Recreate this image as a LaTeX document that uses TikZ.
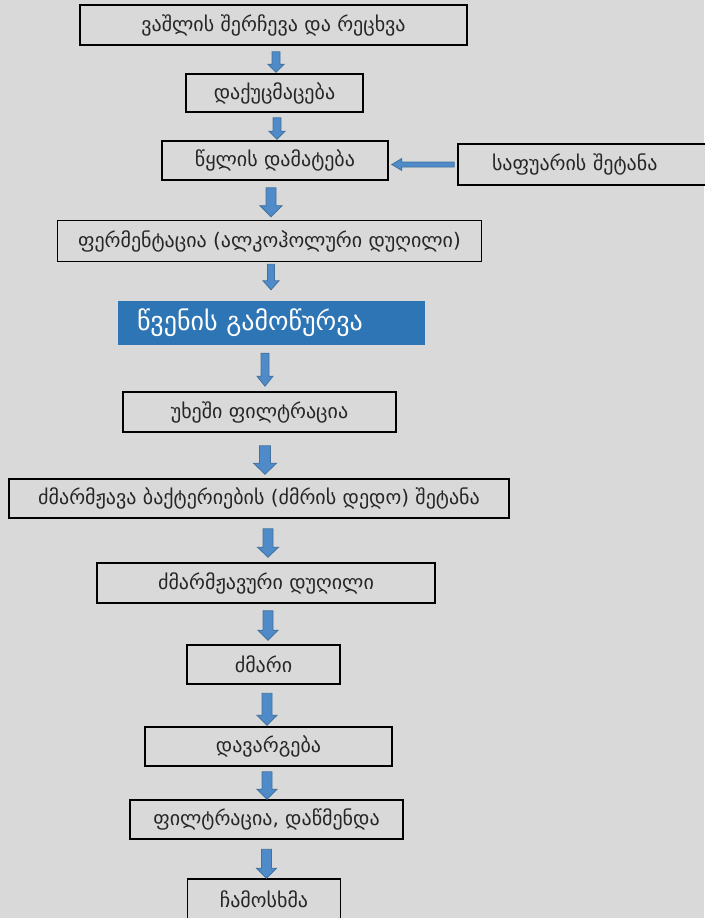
\documentclass[tikz,border=0pt]{standalone}
\usepackage{fontspec}
\setmainfont{DejaVu Sans}
\usetikzlibrary{calc}
\definecolor{bgc}{RGB}{217,217,217}
\definecolor{arrfill}{RGB}{79,139,201}
\definecolor{arrline}{RGB}{65,113,156}
\definecolor{boxblue}{RGB}{46,117,182}
\tikzset{
  stepbox/.style={draw=black, line width=1.6pt, fill=bgc, inner sep=0pt, font=\fontsize{20}{23}\selectfont, text=black!85},
  bluebox/.style={fill=boxblue, inner sep=0pt, font=\fontsize{26}{30}\selectfont, text=white},
  arrowstyle/.style={fill=arrfill, draw=arrline, line width=0.8pt, line join=miter},
  blkdown/.style n args={3}{to path={
    let \p1=(\tikztostart), \p2=(\tikztotarget) in
    (\x1-#1/2,\y1) -- (\x1-#1/2,\y2+#3) -- (\x1-#2/2,\y2+#3) -- (\x1,\y2) -- (\x1+#2/2,\y2+#3) -- (\x1+#1/2,\y2+#3) -- (\x1+#1/2,\y1) -- cycle
  }},
  blkleft/.style n args={3}{to path={
    let \p1=(\tikztostart), \p2=(\tikztotarget) in
    (\x1,\y1-#1/2) -- (\x2+#3,\y1-#1/2) -- (\x2+#3,\y1-#2/2) -- (\x2,\y1) -- (\x2+#3,\y1+#2/2) -- (\x2+#3,\y1+#1/2) -- (\x1,\y1+#1/2) -- cycle
  }}
}
\begin{document}
\begin{tikzpicture}[x=1pt,y=-1pt]
\useasboundingbox (0,0) rectangle (704,918);
\fill[bgc] (0,0) rectangle (704,918);

\node[stepbox, minimum width=387, minimum height=40] (b1) at (273.5,25) {ვაშლის შერჩევა და რეცხვა};
\node[stepbox, minimum width=177, minimum height=38] (b2) at (274.5,93) {დაქუცმაცება};
\node[stepbox, minimum width=226, minimum height=39] (b3) at (275,160.5) {წყლის დამატება};
\node[stepbox, minimum width=270, minimum height=41, text width=262, align=left] (b4) at (593,164.5) {\hspace*{30pt}საფუარის შეტანა};
\node[stepbox, minimum width=424, minimum height=41] (b5) at (269.5,241) {ფერმენტაცია (ალკოჰოლური დუღილი)};
\node[bluebox, minimum width=307, minimum height=44, text width=269, align=left] (b6) at (271.5,323) {წვენის გამოწურვა};
\node[stepbox, minimum width=273, minimum height=40] (b7) at (259.5,412) {უხეში ფილტრაცია};
\node[stepbox, minimum width=500, minimum height=39] (b8) at (259,498.5) {ძმარმჟავა ბაქტერიების (ძმრის დედო) შეტანა};
\node[stepbox, minimum width=338, minimum height=40] (b9) at (266,583) {ძმარმჟავური დუღილი};
\node[stepbox, minimum width=153, minimum height=39] (b10) at (263.5,664.5) {ძმარი};
\node[stepbox, minimum width=247, minimum height=39] (b11) at (268.5,746.5) {დავარგება};
\node[stepbox, minimum width=273, minimum height=39] (b12) at (266.5,819.5) {ფილტრაცია, დაწმენდა};
\node[stepbox, minimum width=153, minimum height=41] (b13) at (264,899.5) {ჩამოსხმა};

\draw[arrowstyle] ([xshift=2.5,yshift=-6]b1.south) to[blkdown={8}{16}{8}] ([yshift=1]b2.north);
\draw[arrowstyle] ([xshift=2.5,yshift=-5]b2.south) to[blkdown={8}{16}{8}] ([yshift=1]b3.north);
\draw[arrowstyle] ([xshift=-4,yshift=-7]b3.south) to[blkdown={10}{22}{11}] ([yshift=3]b5.north);
\draw[arrowstyle] ([xshift=1.5,yshift=-2]b5.south) to[blkdown={7}{16}{9}] ([yshift=11]b6.north);
\draw[arrowstyle] ([xshift=-6.5,yshift=-8]b6.south) to[blkdown={8}{16}{10}] ([yshift=5]b7.north);
\draw[arrowstyle] ([xshift=5.5,yshift=-13]b7.south) to[blkdown={11}{23}{11}] ([yshift=4]b8.north);
\draw[arrowstyle] ([xshift=9,yshift=-10]b8.south) to[blkdown={10}{21}{10}] ([yshift=5]b9.north);
\draw[arrowstyle] ([xshift=2,yshift=-7]b9.south) to[blkdown={10}{20}{10}] ([yshift=4]b10.north);
\draw[arrowstyle] ([xshift=3.5,yshift=-8.5]b10.south) to[blkdown={10}{20}{10}] ([yshift=1]b11.north);
\draw[arrowstyle] ([xshift=-1.5,yshift=-5]b11.south) to[blkdown={10}{20}{10}] ([yshift=0]b12.north);
\draw[arrowstyle] ([xshift=0,yshift=-9.5]b12.south) to[blkdown={10}{20}{10}] ([yshift=0]b13.north);
\draw[arrowstyle] ([xshift=-3]b4.west) to[blkleft={5}{12}{10}] ([xshift=3]b3.east);
\end{tikzpicture}
\end{document}
